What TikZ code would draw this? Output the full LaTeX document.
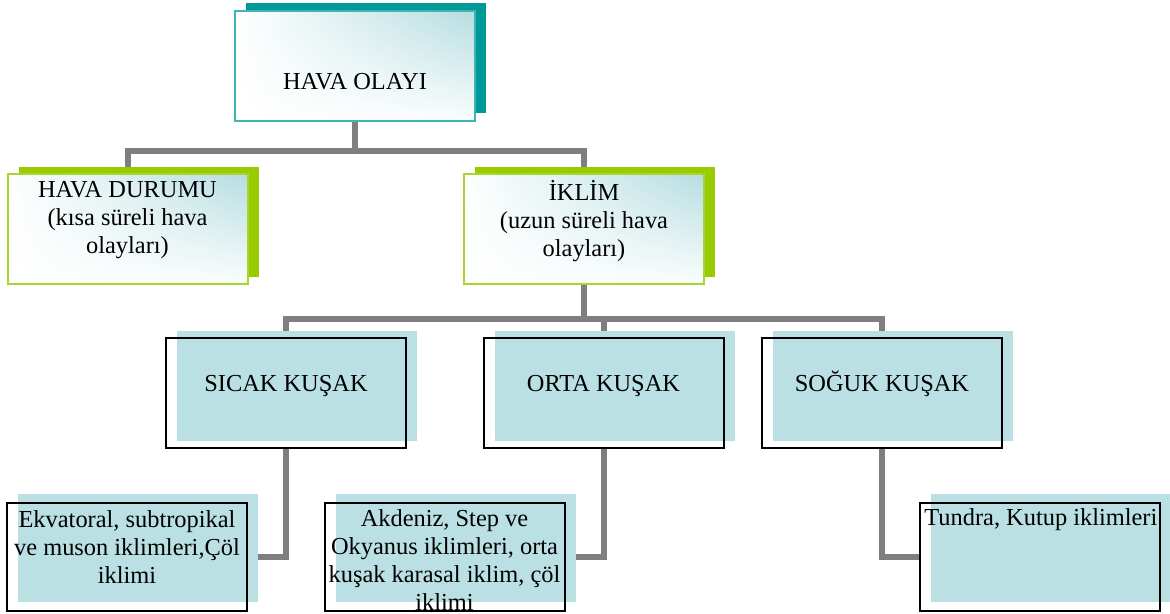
\documentclass[tikz,border=0pt]{standalone}
\usepackage{fontspec}
\setmainfont{Liberation Serif}
\usepackage{xcolor}
\usepackage{tikz}
\usetikzlibrary{shadings,shadows,backgrounds,positioning}
\definecolor{tealdark}{HTML}{009999}
\definecolor{tealline}{HTML}{3DB5B5}
\definecolor{tealpale}{HTML}{B5DDE0}
\definecolor{lime}{HTML}{99CC00}
\definecolor{limeline}{HTML}{A8D530}
\definecolor{aqua}{HTML}{BAE0E3}
\definecolor{link}{HTML}{7F7F7F}
\definecolor{ink}{HTML}{000000}
\tikzset{
  txt/.style={text=ink, font=\fontsize{12.2}{14}\selectfont, align=center, inner sep=0pt},
  box/.style={minimum width=120pt, minimum height=55pt, inner sep=0pt, line width=1pt},
  topbox/.style={box, draw=tealline,
    upper left=white, lower left=white, upper right=tealpale, lower right=white!94!tealpale,
    general shadow={fill=tealdark, shadow xshift=5.5pt, shadow yshift=4pt}},
  limebox/.style={box, draw=limeline,
    upper left=white, lower left=white, upper right=tealpale, lower right=white!94!tealpale,
    general shadow={fill=lime, shadow xshift=5.5pt, shadow yshift=3.5pt}},
  zonebox/.style={box, draw=ink,
    general shadow={fill=aqua, shadow xshift=5.5pt, shadow yshift=3.5pt}},
  climbox/.style={box, draw=ink, minimum height=54pt,
    general shadow={fill=aqua, shadow xshift=5.5pt, shadow yshift=4.5pt}},
  conn/.style={draw=link, line width=3pt},
}
\begin{document}
\begin{tikzpicture}[x=0.5pt, y=-0.5pt]
\useasboundingbox (0,0) rectangle (1170,614);

\node[topbox] (olay) at (355,66) {};
\node[txt, anchor=base] (olaytxt) at ([yshift=-12pt]olay.center) {HAVA OLAYI};

\node[limebox] (durum) at (127.5,229) {};
\node[txt] (durumtxt) at ([yshift=4.5pt]durum.center) {HAVA DURUMU\\(kısa süreli hava\\olayları)};
\node[limebox] (iklim) at (584,229) {};
\node[txt] (iklimtxt) at ([yshift=4pt]iklim.center) {İKLİM\\(uzun süreli hava\\olayları)};

\node[zonebox] (sicak) at (286,393) {};
\node[txt, anchor=base] (sicaktxt) at ([yshift=1pt]sicak.center) {SICAK KUŞAK};
\node[zonebox] (orta) at (603.5,393) {};
\node[txt, anchor=base] (ortatxt) at ([yshift=1pt]orta.center) {ORTA KUŞAK};
\node[zonebox] (soguk) at (882,393) {};
\node[txt, anchor=base] (soguktxt) at ([yshift=1pt]soguk.center) {SOĞUK KUŞAK};

\node[climbox] (ekva) at (127,557) {};
\node[txt] (ekvatxt) at ([yshift=5pt]ekva.center) {Ekvatoral, subtropikal\\ve muson iklimleri,Çöl\\iklimi};
\node[climbox] (akd) at (444.5,557) {};
\node[txt] (akdtxt) at ([yshift=-1.5pt]akd.center) {Akdeniz, Step ve\\Okyanus iklimleri, orta\\kuşak karasal iklim, çöl\\iklimi};
\node[climbox] (tundra) at (1040,557) {};
\node[txt, align=left, anchor=north west] (tundratxt) at ([shift={(2.5pt,-3pt)}]tundra.north west) {Tundra, Kutup iklimleri};

\begin{scope}[on background layer]
\fill[white] (0,0) rectangle (1170,614);
\draw[conn] (olay.south) -- ++(0,29) -| (durum.north);
\draw[conn] (olay.south) -- ++(0,29) -| (iklim.north);
\draw[conn] (iklim.south) -- ++(0,34) -| (sicak.north);
\draw[conn] (iklim.south) -- ++(0,34) -| (orta.north);
\draw[conn] (iklim.south) -- ++(0,34) -| (soguk.north);
\draw[conn] (sicak.south) |- (ekva.east);
\draw[conn] (orta.south) |- (akd.east);
\draw[conn] (soguk.south) |- (tundra.west);
\end{scope}
\end{tikzpicture}
\end{document}
